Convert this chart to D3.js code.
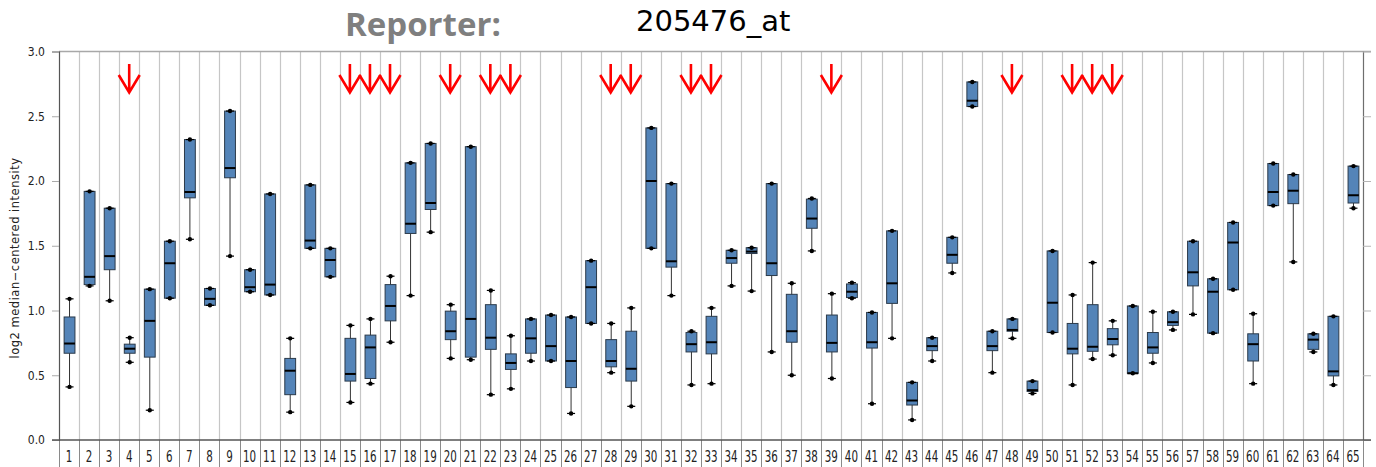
<!DOCTYPE html>
<html>
<head>
<meta charset="utf-8">
<script src="https://cdn.jsdelivr.net/npm/d3@7"></script>
<style>
  body { margin: 0; background: #fff; }
  svg text { font-family: "DejaVu Sans Condensed", "DejaVu Sans", sans-serif; }
</style>
</head>
<body>
<div id="chart"></div>
<script>
const categories = ["1","2","3","4","5","6","7","8","9","10","11","12","13","14","15","16","17","18","19","20",
  "21","22","23","24","25","26","27","28","29","30","31","32","33","34","35","36","37","38","39","40",
  "41","42","43","44","45","46","47","48","49","50","51","52","53","54","55","56","57","58","59","60",
  "61","62","63","64","65"];

const whiskerLow = [0.41,1.19,1.075,0.60,0.23,1.095,1.55,1.04,1.42,1.145,1.12,0.215,1.48,1.26,0.29,0.435,0.755,1.115,1.605,0.63,
  0.62,0.35,0.395,0.61,0.61,0.205,0.90,0.52,0.26,1.48,1.115,0.425,0.435,1.19,1.15,0.68,0.50,1.46,0.475,1.095,
  0.28,0.785,0.155,0.61,1.29,2.575,0.52,0.785,0.36,0.83,0.425,0.625,0.655,0.515,0.595,0.85,0.97,0.825,1.16,0.435,
  1.81,1.375,0.68,0.425,1.79];
const q1 = [0.67,1.20,1.315,0.67,0.64,1.095,1.87,1.04,2.025,1.145,1.12,0.35,1.48,1.26,0.455,0.475,0.92,1.595,1.78,0.775,
  0.64,0.70,0.545,0.67,0.61,0.405,0.90,0.565,0.455,1.48,1.335,0.68,0.665,1.365,1.44,1.27,0.755,1.635,0.68,1.10,
  0.71,1.055,0.27,0.69,1.365,2.575,0.69,0.84,0.375,0.83,0.665,0.685,0.735,0.515,0.67,0.885,1.19,0.825,1.16,0.61,
  1.81,1.825,0.70,0.495,1.83];
const median = [0.745,1.26,1.42,0.705,0.92,1.365,1.915,1.09,2.10,1.18,1.20,0.535,1.54,1.39,0.51,0.715,1.035,1.67,1.83,0.84,
  0.935,0.79,0.595,0.785,0.725,0.61,1.18,0.61,0.55,2.00,1.38,0.74,0.755,1.405,1.455,1.365,0.84,1.71,0.75,1.145,
  0.755,1.21,0.305,0.725,1.43,2.62,0.725,0.85,0.385,1.06,0.705,0.72,0.78,0.515,0.715,0.91,1.295,1.145,1.525,0.74,
  1.915,1.925,0.775,0.53,1.89];
const q3 = [0.95,1.92,1.79,0.74,1.165,1.535,2.32,1.17,2.54,1.315,1.90,0.63,1.97,1.48,0.785,0.81,1.20,2.14,2.29,0.995,
  2.265,1.045,0.665,0.935,0.965,0.95,1.385,0.775,0.84,2.41,1.98,0.83,0.955,1.465,1.485,1.98,1.125,1.86,0.965,1.205,
  0.985,1.615,0.445,0.79,1.565,2.765,0.84,0.935,0.455,1.46,0.90,1.045,0.86,1.035,0.83,0.99,1.535,1.245,1.68,0.82,
  2.135,2.05,0.82,0.955,2.115];
const whiskerHigh = [1.09,1.92,1.79,0.79,1.165,1.535,2.32,1.17,2.54,1.315,1.90,0.785,1.97,1.48,0.885,0.935,1.265,2.14,2.29,1.045,
  2.265,1.155,0.805,0.935,0.965,0.95,1.385,0.90,1.02,2.41,1.98,0.84,1.02,1.465,1.485,1.98,1.21,1.865,1.13,1.215,
  0.985,1.615,0.445,0.79,1.565,2.765,0.84,0.935,0.455,1.46,1.12,1.37,0.92,1.035,0.99,0.99,1.535,1.245,1.68,0.975,
  2.135,2.05,0.82,0.955,2.115];

const flagged = ["4","15","16","17","20","22","23","28","29","32","33","39","48","51","52","53"];
const yTicks = [0, 0.5, 1.0, 1.5, 2.0, 2.5, 3.0];

const W = 1376, H = 467;
const m = { top: 51.5, right: 13, bottom: 27, left: 59 };

const svg = d3.select("#chart").append("svg")
  .attr("width", W)
  .attr("height", H);

const x = d3.scaleBand()
  .domain(categories)
  .range([m.left, W - m.right])
  .padding(0);

const y = d3.scaleLinear()
  .domain([0, 3])
  .range([H - m.bottom, m.top]);

const plotBottom = y(0), plotTop = y(3);
const plotRight = W - m.right;

// ---- title ----
svg.append("text")
  .attr("x", 345).attr("y", 36)
  .style("font-family", "'Open Sans', sans-serif")
  .style("font-weight", 700)
  .style("font-size", "33px")
  .attr("fill", "#7f7f7f")
  .text("Reporter:");

svg.append("text")
  .attr("x", 636).attr("y", 31)
  .style("font-family", "'DejaVu Sans', sans-serif")
  .style("font-size", "29px")
  .attr("fill", "#000")
  .text("205476_at");

// ---- category separators ----
const edges = categories.map(c => x(c)).concat([x(categories[categories.length - 1]) + x.step()]);

svg.append("g").selectAll("line.sep")
  .data(edges.slice(1, -1))
  .join("line")
  .attr("x1", d => Math.round(d) + 0.5).attr("x2", d => Math.round(d) + 0.5)
  .attr("y1", plotTop).attr("y2", plotBottom)
  .attr("stroke", "#c6c6c6")
  .attr("stroke-width", 1.2);

svg.append("g").selectAll("line.lab")
  .data(edges)
  .join("line")
  .attr("x1", d => Math.round(d) + 0.5).attr("x2", d => Math.round(d) + 0.5)
  .attr("y1", plotBottom).attr("y2", H)
  .attr("stroke", "#8a8a8a")
  .attr("stroke-width", 1);

// top border
svg.append("line")
  .attr("x1", m.left).attr("x2", plotRight + 8)
  .attr("y1", plotTop).attr("y2", plotTop)
  .attr("stroke", "#a8a8a8").attr("stroke-width", 1.3);

// right border
svg.append("line")
  .attr("x1", Math.round(plotRight) + 0.5).attr("x2", Math.round(plotRight) + 0.5)
  .attr("y1", plotTop).attr("y2", plotBottom)
  .attr("stroke", "#6e6e6e").attr("stroke-width", 1.2);

// ---- axes ----
const yAxis = svg.append("g")
  .attr("transform", `translate(${m.left},0)`)
  .call(d3.axisLeft(y).tickValues(yTicks).tickFormat(d3.format(".1f")).tickSize(7).tickPadding(7));
yAxis.select(".domain").attr("stroke", "#555").attr("stroke-width", 1.2);
yAxis.selectAll(".tick line").attr("stroke", "#aaa");
yAxis.selectAll(".tick text")
  .style("font-size", "12px")
  .attr("fill", "#222");

const yRight = svg.append("g")
  .attr("transform", `translate(${plotRight},0)`)
  .call(d3.axisRight(y).tickValues(yTicks).tickFormat("").tickSize(8));
yRight.select(".domain").remove();
yRight.selectAll(".tick line").attr("stroke", "#b5b5b5");

// bottom line
svg.append("line")
  .attr("x1", m.left - 7).attr("x2", plotRight + 8)
  .attr("y1", plotBottom).attr("y2", plotBottom)
  .attr("stroke", "#555").attr("stroke-width", 1.3);

// category labels
svg.append("g").selectAll("text")
  .data(categories)
  .join("text")
  .attr("transform", d => `translate(${x(d) + x.step() / 2},${plotBottom + 22}) scale(0.74,1)`)
  .attr("text-anchor", "middle")
  .style("font-size", "15.5px")
  .attr("fill", "#222")
  .text(d => d);

// y label
svg.append("text")
  .attr("transform", `translate(19,258) rotate(-90)`)
  .attr("text-anchor", "middle")
  .style("font-family", "'DejaVu Sans', sans-serif")
  .style("font-size", "11.5px")
  .style("letter-spacing", "0.5px")
  .attr("fill", "#222")
  .text("log2 median\u2212centered intensity");

// ---- boxes ----
const boxes = categories.map((c, i) => ({
  cat: c, lo: whiskerLow[i], q1: q1[i], med: median[i], q3: q3[i], hi: whiskerHigh[i]
}));

const bw = x.bandwidth() * 0.54;
const capW = 8;

const g = svg.append("g").selectAll("g.box")
  .data(boxes)
  .join("g")
  .attr("transform", d => `translate(${x(d.cat) + x.bandwidth() / 2 + 0.5},0)`);

g.append("line")
  .attr("x1", 0).attr("x2", 0)
  .attr("y1", d => y(d.hi)).attr("y2", d => y(d.lo))
  .attr("stroke", "#333").attr("stroke-width", 1);

g.append("rect")
  .attr("x", -bw / 2).attr("width", bw)
  .attr("y", d => y(d.q3))
  .attr("height", d => Math.max(1, y(d.q1) - y(d.q3)))
  .attr("fill", "#5484b8")
  .attr("stroke", "#2b3a4a").attr("stroke-width", 1);

g.append("line")
  .attr("x1", -bw / 2).attr("x2", bw / 2)
  .attr("y1", d => y(d.med)).attr("y2", d => y(d.med))
  .attr("stroke", "#000").attr("stroke-width", 2);

["lo", "hi"].forEach(k => {
  g.append("line")
    .attr("x1", -capW / 2).attr("x2", capW / 2)
    .attr("y1", d => y(d[k])).attr("y2", d => y(d[k]))
    .attr("stroke", "#000").attr("stroke-width", 1.2);
  g.append("circle")
    .attr("cx", 0).attr("cy", d => y(d[k]))
    .attr("r", 2.2)
    .attr("fill", "#000");
});

// ---- flagged arrows ----
svg.append("g").selectAll("path")
  .data(flagged)
  .join("path")
  .attr("d", d => {
    const cx = x(d) + x.bandwidth() / 2;
    return `M${cx},64 L${cx},92 M${cx - 10.5},75 L${cx},92.5 L${cx + 10.5},75`;
  })
  .attr("fill", "none")
  .attr("stroke", "#ff0000")
  .attr("stroke-width", 2.6);
</script>
</body>
</html>
